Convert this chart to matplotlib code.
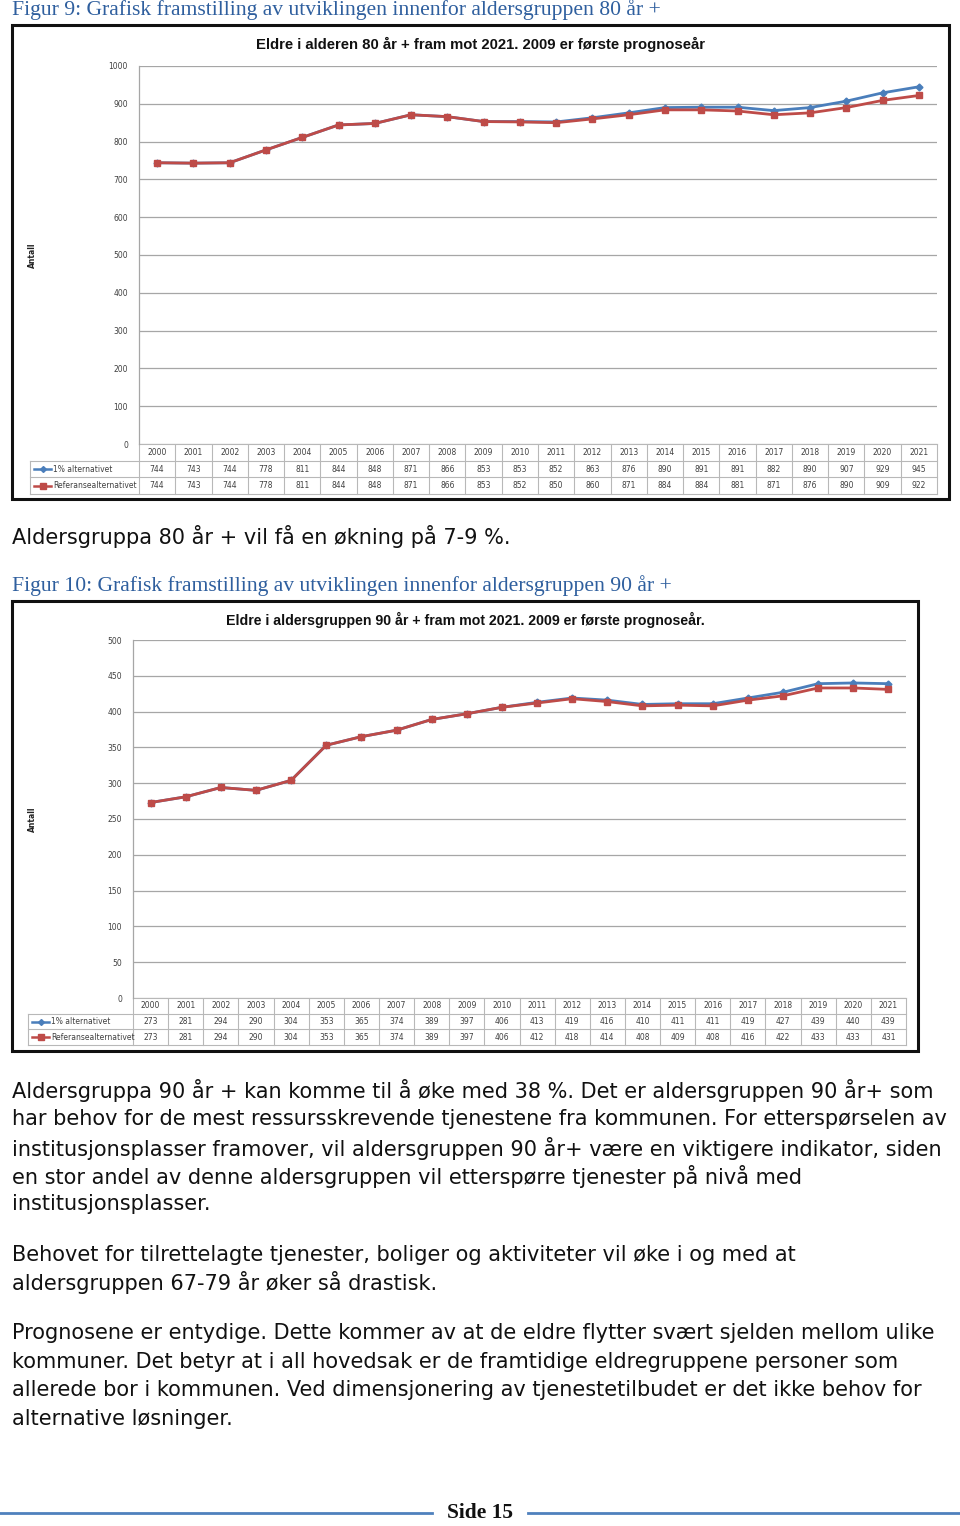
import matplotlib
matplotlib.use("Agg")
import matplotlib.pyplot as plt
import numpy as np
from matplotlib.patches import Rectangle

# Data
years = [str(y) for y in range(2000, 2022)]
alt80 = [744, 743, 744, 778, 811, 844, 848, 871, 866, 853, 853, 852, 863, 876, 890, 891, 891, 882, 890, 907, 929, 945]
ref80 = [744, 743, 744, 778, 811, 844, 848, 871, 866, 853, 852, 850, 860, 871, 884, 884, 881, 871, 876, 890, 909, 922]
alt90 = [273, 281, 294, 290, 304, 353, 365, 374, 389, 397, 406, 413, 419, 416, 410, 411, 411, 419, 427, 439, 440, 439]
ref90 = [273, 281, 294, 290, 304, 353, 365, 374, 389, 397, 406, 412, 418, 414, 408, 409, 408, 416, 422, 433, 433, 431]
serie_navn = ["1% alternativet", "Referansealternativet"]

W, H = 960, 1526
BLA = '#4a7ebb'
ROD = '#be4b48'
GRID = '#a6a6a6'
TXT = '#404040'

fig = plt.figure(figsize=(W / 100, H / 100), dpi=100)
page = fig.add_axes([0, 0, 1, 1])
page.set_xlim(0, W)
page.set_ylim(H, 0)
page.axis('off')


def fbox(x0, y0, x1, y1):
    return [x0 / W, 1 - y1 / H, (x1 - x0) / W, (y1 - y0) / H]


def tegn_diagram(box, plot, tittel, tsize, alt, ref, ymax, ystep, rad_h, tab_x0):
    bx0, by0, bx1, by1 = box
    page.add_patch(Rectangle((bx0, by0), bx1 - bx0, by1 - by0, fill=False, ec='#111111', lw=2.2, zorder=5))
    px0, py0, px1, py1 = plot
    page.text((bx0 + bx1) / 2, by0 + 19, tittel, ha='center', va='center',
              fontsize=tsize, fontweight='bold', family='Liberation Sans', color='#111111')
    page.text(32, (py0 + py1) / 2, "Antall", rotation=90, ha='center', va='center',
              fontsize=5.5, fontweight='bold', color='#222222')

    ax = fig.add_axes(fbox(px0, py0, px1, py1))
    n = len(years)
    x = np.arange(n)
    ax.plot(x, alt, color=BLA, lw=2, marker='D', ms=3.5, mec=BLA, mfc=BLA, zorder=3)
    ax.plot(x, ref, color=ROD, lw=2, marker='s', ms=5, mec=ROD, mfc=ROD, zorder=4)
    ax.set_xlim(-0.5, n - 0.5)
    ax.set_ylim(0, ymax)
    ax.set_yticks(np.arange(0, ymax + 1, ystep))
    ax.tick_params(axis='y', length=0, labelsize=5.5, labelcolor=TXT, pad=8)
    ax.set_xticks([])
    ax.grid(axis='y', color=GRID, lw=0.9)
    ax.set_axisbelow(True)
    for s in ['top', 'right', 'bottom']:
        ax.spines[s].set_visible(False)
    ax.spines['left'].set_color(GRID)
    ax.spines['left'].set_linewidth(0.9)

    # tabell under diagrammet
    cw = (px1 - px0) / n
    lc = '#b8b8b8'
    rows = [py1, py1 + rad_h, py1 + 2 * rad_h, py1 + 3 * rad_h]
    page.plot([px0, px1], [rows[0], rows[0]], color=lc, lw=0.8)
    for r in rows[1:]:
        page.plot([tab_x0, px1], [r, r], color=lc, lw=0.8)
    page.plot([tab_x0, tab_x0], [rows[1], rows[3]], color=lc, lw=0.8)
    for i in range(n + 1):
        xx = px0 + i * cw
        page.plot([xx, xx], [rows[0], rows[3]], color=lc, lw=0.8)
    for i in range(n):
        xc = px0 + (i + 0.5) * cw
        page.text(xc, (rows[0] + rows[1]) / 2, years[i], ha='center', va='center', fontsize=5.5, color=TXT)
        page.text(xc, (rows[1] + rows[2]) / 2, str(alt[i]), ha='center', va='center', fontsize=5.5, color=TXT)
        page.text(xc, (rows[2] + rows[3]) / 2, str(ref[i]), ha='center', va='center', fontsize=5.5, color=TXT)
    for k, (farge, mk, ms) in enumerate([(BLA, 'D', 3), (ROD, 's', 4.5)]):
        yc = (rows[k + 1] + rows[k + 2]) / 2
        page.plot([tab_x0 + 4, tab_x0 + 21], [yc, yc], color=farge, lw=1.8)
        page.plot([tab_x0 + 12.5], [yc], marker=mk, ms=ms, color=farge)
        page.text(tab_x0 + 23, yc, serie_navn[k], ha='left', va='center', fontsize=5.5, color=TXT)
    return ax


tegn_diagram((12, 25, 949, 499), (139, 66, 937, 444),
             "Eldre i alderen 80 år + fram mot 2021. 2009 er første prognoseår", 10.7,
             alt80, ref80, 1000, 100, 16.7, 30)
tegn_diagram((12, 601, 918, 1051), (133, 640, 906, 998),
             "Eldre i aldersgruppen 90 år + fram mot 2021. 2009 er første prognoseår.", 10.2,
             alt90, ref90, 500, 50, 15.7, 28)

CAP = '#2f5f9e'
page.text(12, 10, "Figur 9: Grafisk framstilling av utviklingen innenfor aldersgruppen 80 år +",
          ha='left', va='center', fontsize=15.6, family='Liberation Serif', color=CAP)
page.text(12, 586, "Figur 10: Grafisk framstilling av utviklingen innenfor aldersgruppen 90 år +",
          ha='left', va='center', fontsize=15.6, family='Liberation Serif', color=CAP)

linjer = [
    (537, "Aldersgruppa 80 år + vil få en økning på 7-9 %."),
    (1091, "Aldersgruppa 90 år + kan komme til å øke med 38 %. Det er aldersgruppen 90 år+ som"),
    (1119, "har behov for de mest ressursskrevende tjenestene fra kommunen. For etterspørselen av"),
    (1148, "institusjonsplasser framover, vil aldersgruppen 90 år+ være en viktigere indikator, siden"),
    (1176, "en stor andel av denne aldersgruppen vil etterspørre tjenester på nivå med"),
    (1204, "institusjonsplasser."),
    (1255, "Behovet for tilrettelagte tjenester, boliger og aktiviteter vil øke i og med at"),
    (1283, "aldersgruppen 67-79 år øker så drastisk."),
    (1333, "Prognosene er entydige. Dette kommer av at de eldre flytter svært sjelden mellom ulike"),
    (1362, "kommuner. Det betyr at i all hovedsak er de framtidige eldregruppene personer som"),
    (1390, "allerede bor i kommunen. Ved dimensjonering av tjenestetilbudet er det ikke behov for"),
    (1419, "alternative løsninger."),
]
for y, t in linjer:
    page.text(12, y, t, ha='left', va='center', fontsize=15, family='DejaVu Sans', color='#111111')

# bunntekst
page.plot([0, 432], [1513, 1513], color='#4f81bd', lw=2)
page.plot([528, 960], [1513, 1513], color='#4f81bd', lw=2)
page.text(480, 1513, "Side 15", ha='center', va='center', fontsize=15.5, family='Liberation Serif',
          fontweight='bold', color='#111111')

fig.savefig("out.png", dpi=100)
